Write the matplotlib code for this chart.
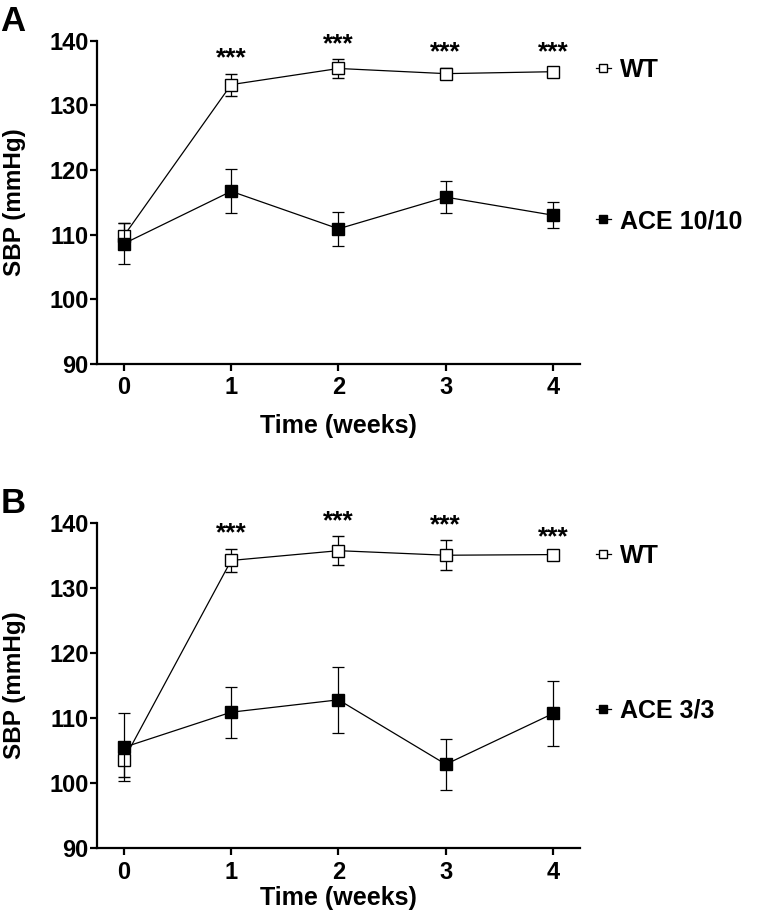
import matplotlib
matplotlib.use("Agg")
import matplotlib.pyplot as plt

plt.rcParams['font.family'] = ['Liberation Sans', 'DejaVu Sans']
plt.rcParams['font.weight'] = 'bold'

# data (mean, SEM)
weeks = [0, 1, 2, 3, 4]
wt_a = [109.8, 133.2, 135.7, 134.9, 135.2]
wt_a_err = [2.0, 1.7, 1.4, 0.9, 0.7]
ace_a = [108.6, 116.7, 110.9, 115.8, 113.0]
ace_a_err = [3.2, 3.4, 2.6, 2.5, 2.0]

wt_b = [103.6, 134.2, 135.7, 135.0, 135.1]
wt_b_err = [2.7, 1.8, 2.2, 2.3, 0.3]
ace_b = [105.5, 110.9, 112.8, 102.9, 110.7]
ace_b_err = [5.2, 3.9, 5.1, 3.9, 5.0]

yticks = [90, 100, 110, 120, 130, 140]
star_weeks = [1, 2, 3, 4]

panels = [
    ("A", wt_a, wt_a_err, ace_a, ace_a_err, "ACE 10/10",
     [0.1255, 0.6027, 0.6248, 0.3529], 0.909, 0.442, -0.155),
    ("B", wt_b, wt_b_err, ace_b, ace_b_err, "ACE 3/3",
     [0.1255, 0.0739, 0.6248, 0.3555], 0.898, 0.423, -0.117),
]

fig = plt.figure(figsize=(7.73, 9.16), dpi=100)

for letter, wt, wt_err, ace, ace_err, ace_name, rect, wt_leg, ace_leg, xl_y in panels:
    ax = fig.add_axes(rect)

    wt_line = ax.errorbar(weeks, wt, yerr=wt_err, color='black', lw=0.9,
                          marker='s', ms=9, mfc='white', mec='black', mew=1.0,
                          capsize=4, elinewidth=0.9, capthick=0.9, zorder=3)
    ace_line = ax.errorbar(weeks, ace, yerr=ace_err, color='black', lw=0.9,
                           marker='s', ms=9, mfc='black', mec='black',
                           capsize=4, elinewidth=0.9, capthick=0.9, zorder=4)

    # significance stars above the WT error bars
    for w in star_weeks:
        top = wt[w] + wt_err[w]
        ax.annotate("***", xy=(w, top), xytext=(0, 11), textcoords='offset points',
                    ha='center', va='center', fontsize=19, fontweight='bold')

    ax.set_xlim(-0.25, 4.25)
    ax.set_ylim(90, 140)
    ax.set_xticks(weeks)
    ax.set_yticks(yticks)
    for s in ['top', 'right']:
        ax.spines[s].set_visible(False)
    for s in ['left', 'bottom']:
        ax.spines[s].set_linewidth(1.6)
    ax.tick_params(axis='both', direction='out', length=5, width=1.6,
                   labelsize=17)
    ax.tick_params(axis='y', pad=1)
    ax.tick_params(axis='x', pad=4)
    for lab in ax.get_xticklabels() + ax.get_yticklabels():
        lab.set_fontweight('bold')

    ax.set_xlabel("Time (weeks)", fontsize=18, fontweight='bold')
    ax.set_ylabel("SBP (mmHg)", fontsize=17.5, fontweight='bold')
    ax.yaxis.set_label_coords(-0.148, 0.5)
    ax.xaxis.set_label_coords(0.5, xl_y)

    ax.text(-0.2, 1.11, letter, transform=ax.transAxes, fontsize=25,
            fontweight='bold', ha='left', va='top')

    leg1 = ax.legend([wt_line[0]], ["WT"], loc='center left',
                     bbox_to_anchor=(1.033, wt_leg), frameon=False,
                     borderpad=0, borderaxespad=0, handlelength=0.6,
                     handletextpad=0.35, markerscale=0.7,
                     prop={'size': 18, 'weight': 'bold'})
    ax.add_artist(leg1)
    ax.legend([ace_line[0]], [ace_name], loc='center left',
              bbox_to_anchor=(1.033, ace_leg), frameon=False,
              borderpad=0, borderaxespad=0, handlelength=0.6,
              handletextpad=0.35, markerscale=0.7,
              prop={'size': 18, 'weight': 'bold'})

fig.savefig("out.png", dpi=100)
